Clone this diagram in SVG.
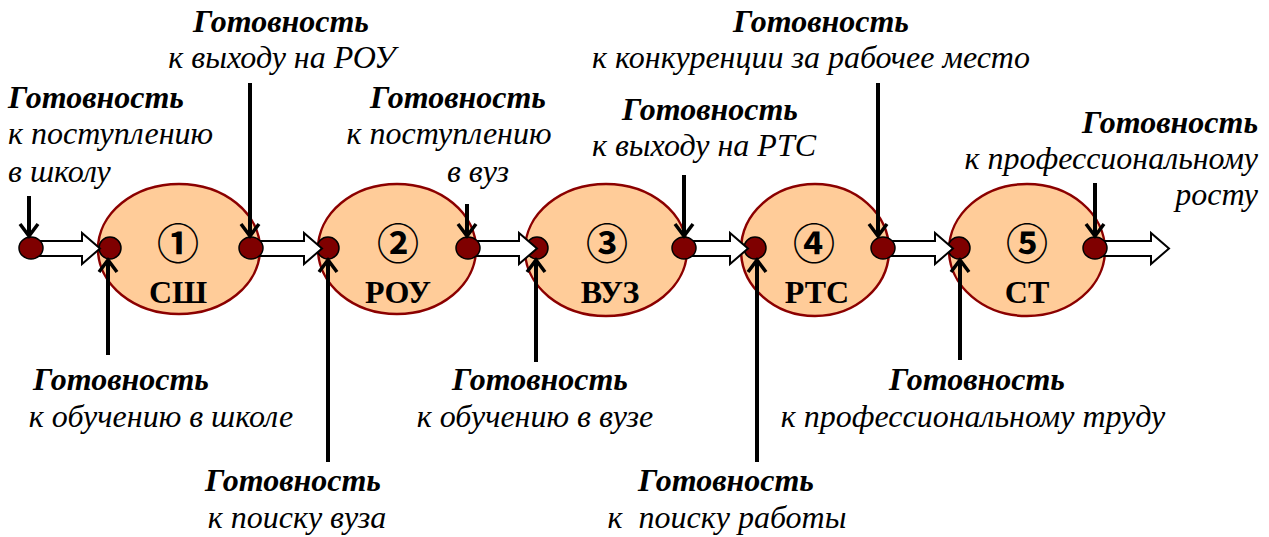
<svg xmlns="http://www.w3.org/2000/svg" width="1269" height="537" viewBox="0 0 1269 537">
<defs>
<style>
.stage{fill:#FFCC99;stroke:#8B0000;stroke-width:2.5}
.dot{fill:#7F0000;stroke:#000;stroke-width:1.5}
.blk{fill:#fff;stroke:#000;stroke-width:2;stroke-linejoin:miter}
.ln{stroke:#000;stroke-width:4;fill:none}
.hd{stroke:#000;stroke-width:3.5;fill:none}
.h{font-weight:bold;font-style:italic;font-size:32px;fill:#000}
.t{font-style:italic;font-size:32px;fill:#000}
.num{font-size:42px;font-weight:bold;fill:#000;text-anchor:middle}
.lab{font-weight:bold;font-size:32px;fill:#000;text-anchor:middle}
.m{text-anchor:middle}
.e{text-anchor:end}
</style>
</defs>

<g id="stage1"><ellipse class="stage" cx="179" cy="249" rx="81" ry="65"/><text class="num" font-family="Noto Sans CJK JP, sans-serif" x="178" y="259">①</text><text class="lab" font-family="Liberation Serif, Tinos, Times New Roman, serif" x="178" y="303">СШ</text></g>
<g id="stage2"><ellipse class="stage" cx="397" cy="249" rx="79" ry="65"/><text class="num" font-family="Noto Sans CJK JP, sans-serif" x="398" y="259">②</text><text class="lab" font-family="Liberation Serif, Tinos, Times New Roman, serif" x="398" y="303">РОУ</text></g>
<g id="stage3"><ellipse class="stage" cx="606" cy="250" rx="81" ry="66"/><text class="num" font-family="Noto Sans CJK JP, sans-serif" x="607" y="259">③</text><text class="lab" font-family="Liberation Serif, Tinos, Times New Roman, serif" x="610" y="303">ВУЗ</text></g>
<g id="stage4"><ellipse class="stage" cx="815" cy="250" rx="74" ry="66"/><text class="num" font-family="Noto Sans CJK JP, sans-serif" x="814" y="259">④</text><text class="lab" font-family="Liberation Serif, Tinos, Times New Roman, serif" x="817" y="303">РТС</text></g>
<g id="stage5"><ellipse class="stage" cx="1027" cy="250" rx="78" ry="66"/><text class="num" font-family="Noto Sans CJK JP, sans-serif" x="1027" y="259">⑤</text><text class="lab" font-family="Liberation Serif, Tinos, Times New Roman, serif" x="1027" y="303">СТ</text></g>

<g id="entry-points">
<ellipse class="dot" cx="110" cy="248" rx="11" ry="11"/>
<ellipse class="dot" cx="328" cy="248" rx="11" ry="11"/>
<ellipse class="dot" cx="537" cy="248" rx="11" ry="11"/>
<ellipse class="dot" cx="755" cy="248" rx="11" ry="11"/>
<ellipse class="dot" cx="959" cy="248" rx="11" ry="11"/>
</g>

<g id="connectors">
<path class="blk" d="M31,241 H82 V233 L100,248.5 L82,264 V256 H31 Z"/>
<path class="blk" d="M251,241 H304 V233 L322,248.5 L304,264 V256 H251 Z"/>
<path class="blk" d="M468,241 H519 V233 L537,248.5 L519,264 V256 H468 Z"/>
<path class="blk" d="M684,241 H730 V233 L748,248.5 L730,264 V256 H684 Z"/>
<path class="blk" d="M883,241 H935 V233 L953,248.5 L935,264 V256 H883 Z"/>
<path class="blk" d="M1095,241 H1151 V233 L1169,248.5 L1151,264 V256 H1095 Z"/>
</g>

<g id="exit-points">
<ellipse class="dot" cx="31" cy="248" rx="12" ry="11"/>
<ellipse class="dot" cx="251" cy="248" rx="12" ry="11"/>
<ellipse class="dot" cx="468" cy="248" rx="12" ry="11"/>
<ellipse class="dot" cx="684" cy="248" rx="12" ry="11"/>
<ellipse class="dot" cx="883" cy="248" rx="12" ry="11"/>
<ellipse class="dot" cx="1095" cy="248" rx="12" ry="11"/>
</g>

<g id="readiness-arrows">
<path class="ln" d="M29,196 V236 M250,83 V236 M467,204 V236 M684,175 V236 M878,83 V236 M1095,183 V236"/>
<path class="hd" d="M20,224 L29,236 L38,224 M241,224 L250,236 L259,224 M458,224 L467,236 L476,224 M675,224 L684,236 L693,224 M869,224 L878,236 L887,224 M1086,224 L1095,236 L1104,224"/>
<path class="ln" d="M108,355 V260 M328,462 V260 M536,362 V260 M757,462 V260 M960,360 V260"/>
<path class="hd" d="M99,272 L108,260 L117,272 M319,272 L328,260 L337,272 M527,272 L536,260 L545,272 M748,272 L757,260 L766,272 M951,272 L960,260 L969,272"/>
</g>

<g id="label-school-entry"><text class="h" font-family="Liberation Serif, Tinos, Times New Roman, serif" x="8" y="108">Готовность</text><text class="t" font-family="Liberation Serif, Tinos, Times New Roman, serif" x="8" y="144">к поступлению</text><text class="t" font-family="Liberation Serif, Tinos, Times New Roman, serif" x="8" y="182">в школу</text></g>
<g id="label-rou-exit"><text class="h m" font-family="Liberation Serif, Tinos, Times New Roman, serif" x="281" y="32">Готовность</text><text class="t m" font-family="Liberation Serif, Tinos, Times New Roman, serif" x="282" y="68">к выходу на РОУ</text></g>
<g id="label-vuz-entry"><text class="h m" font-family="Liberation Serif, Tinos, Times New Roman, serif" x="458" y="108">Готовность</text><text class="t m" font-family="Liberation Serif, Tinos, Times New Roman, serif" x="449" y="144">к поступлению</text><text class="t m" font-family="Liberation Serif, Tinos, Times New Roman, serif" x="478" y="182">в вуз</text></g>
<g id="label-rts-exit"><text class="h m" font-family="Liberation Serif, Tinos, Times New Roman, serif" x="710" y="120">Готовность</text><text class="t m" font-family="Liberation Serif, Tinos, Times New Roman, serif" x="704" y="156">к выходу на РТС</text></g>
<g id="label-competition"><text class="h m" font-family="Liberation Serif, Tinos, Times New Roman, serif" x="821" y="32">Готовность</text><text class="t m" font-family="Liberation Serif, Tinos, Times New Roman, serif" x="811" y="68">к конкуренции за рабочее место</text></g>
<g id="label-growth"><text class="h e" font-family="Liberation Serif, Tinos, Times New Roman, serif" x="1258" y="133">Готовность</text><text class="t e" font-family="Liberation Serif, Tinos, Times New Roman, serif" x="1258" y="169">к профессиональному</text><text class="t e" font-family="Liberation Serif, Tinos, Times New Roman, serif" x="1258" y="205">росту</text></g>
<g id="label-school-study"><text class="h m" font-family="Liberation Serif, Tinos, Times New Roman, serif" x="121" y="390">Готовность</text><text class="t m" font-family="Liberation Serif, Tinos, Times New Roman, serif" x="161" y="427">к обучению в школе</text></g>
<g id="label-vuz-search"><text class="h m" font-family="Liberation Serif, Tinos, Times New Roman, serif" x="293" y="491">Готовность</text><text class="t m" font-family="Liberation Serif, Tinos, Times New Roman, serif" x="297" y="528">к поиску вуза</text></g>
<g id="label-vuz-study"><text class="h m" font-family="Liberation Serif, Tinos, Times New Roman, serif" x="540" y="390">Готовность</text><text class="t m" font-family="Liberation Serif, Tinos, Times New Roman, serif" x="535" y="427">к обучению в вузе</text></g>
<g id="label-job-search"><text class="h m" font-family="Liberation Serif, Tinos, Times New Roman, serif" x="726" y="491">Готовность</text><text class="t m" font-family="Liberation Serif, Tinos, Times New Roman, serif" x="727" y="528">к&#160; поиску работы</text></g>
<g id="label-prof-work"><text class="h m" font-family="Liberation Serif, Tinos, Times New Roman, serif" x="977" y="390">Готовность</text><text class="t m" font-family="Liberation Serif, Tinos, Times New Roman, serif" x="973" y="427">к профессиональному труду</text></g>
</svg>
